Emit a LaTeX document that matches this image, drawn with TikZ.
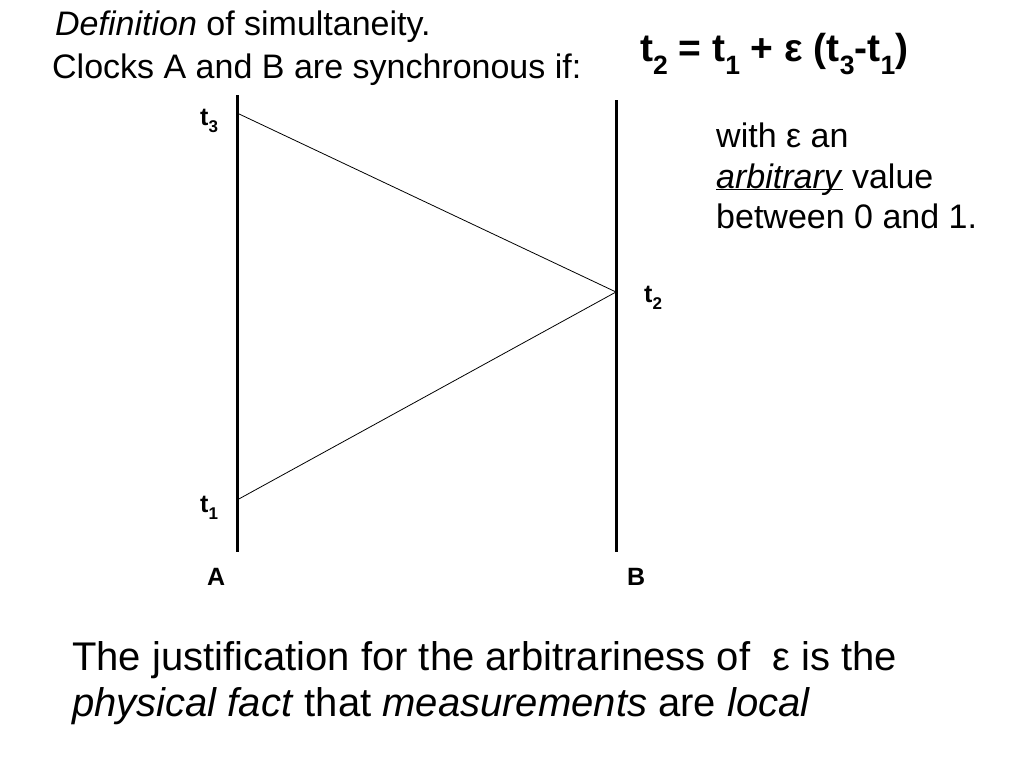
\documentclass[tikz,border=0pt]{standalone}
\usepackage{fontspec}
\usepackage{graphicx}
\setmainfont{Liberation Sans}
\newcommand\lowsub[1]{\raisebox{-0.6ex}{\scalebox{0.68}{#1}}}
\tikzset{
  clock/.style={line width=3pt},
  signal/.style={line width=0.8pt},
  lbl/.style={font=\fontsize{25}{29}\selectfont\bfseries, anchor=base west, inner sep=0pt},
  txt/.style={font=\fontsize{34}{40}\selectfont, anchor=base west, inner sep=0pt},
  big/.style={font=\fontsize{40}{48}\selectfont, anchor=base west, inner sep=0pt},
}
\begin{document}
\begin{tikzpicture}[x=1pt,y=-1pt]
\useasboundingbox (0,0) rectangle (1024,768);
% clocks
\coordinate (Atop) at (237,95);
\coordinate (Abot) at (237,552);
\coordinate (Btop) at (616,100);
\coordinate (Bbot) at (616,552);
\draw[clock] (Atop) -- (Abot);
\draw[clock] (Btop) -- (Bbot);
% events
\coordinate (e3) at (237,113);
\coordinate (e2) at (616,292);
\coordinate (e1) at (237,500);
\draw[signal] (e3) -- (e2) -- (e1);
% labels
\node[lbl] (t3) at (200,125) {t\lowsub{3}};
\node[lbl] (t1) at (200,512) {t\lowsub{1}};
\node[lbl] (t2) at (644,302) {t\lowsub{2}};
\node[lbl] (la) at (207,585) {A};
\node[lbl] (lb) at (627,585) {B};
% texts
\node[txt] (def) at (55,36) {\textit{Definition} of simultaneity.};
\node[txt] (clk) at (52,78) {Clocks A and B are synchronous if:};
\node[font=\fontsize{39}{46}\selectfont\bfseries, anchor=base west, inner sep=0pt] (eq) at (640,62) {t\lowsub{2} = t\lowsub{1} + ε (t\lowsub{3}-t\lowsub{1})};
\node[txt] (w1) at (716,147) {with ε an};
\node[txt] (w2) at (716,188) {\underline{\smash{\textit{arbitrary}}} value};
\node[txt] (w3) at (716,228) {between 0 and 1.};
\node[big] (b1) at (72,670) {The justification for the arbitrariness of~ ε is the};
\node[big] (b2) at (72,716) {\textit{physical fact} that \textit{measurements} are \textit{local}};
\end{tikzpicture}
\end{document}
